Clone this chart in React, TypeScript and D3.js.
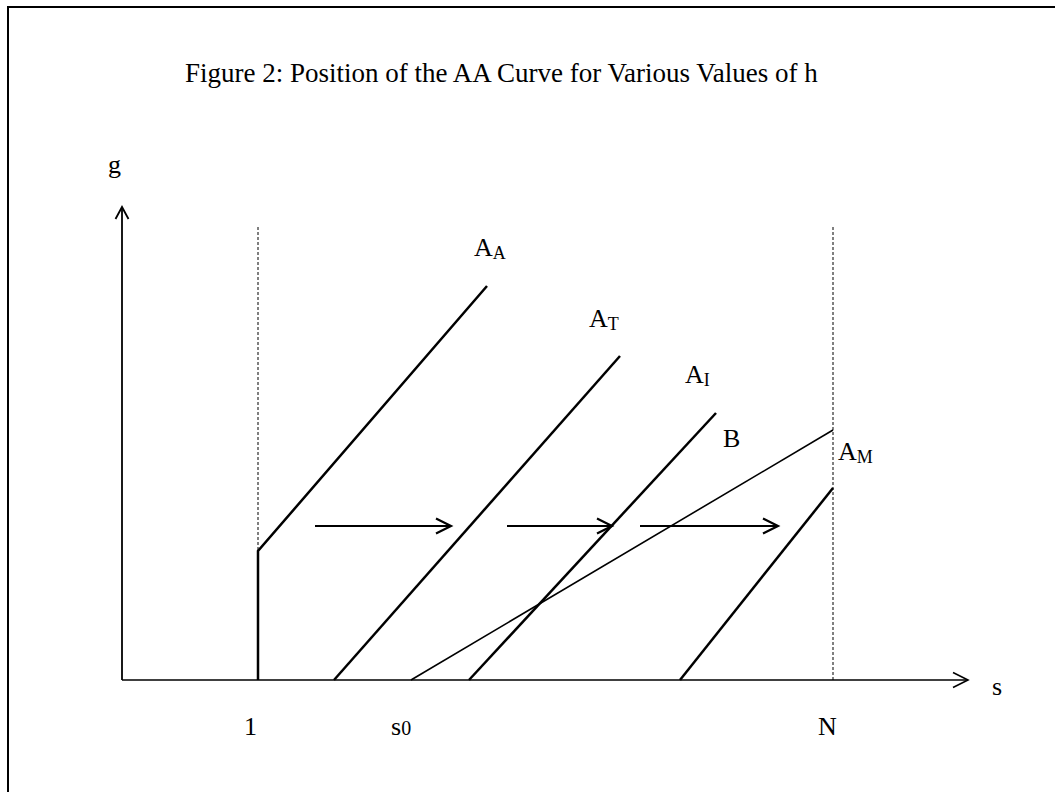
import React from "react";
import * as d3 from "d3";

// Abstract diagram coordinates (s horizontal, g vertical)
const axisExtent = { s: 846, g: 473 };
const guideS = [136, 711]; // s = 1 and s = N
const guideTop = 454;

const curveAA: [number, number][] = [[136, 0], [136, 129], [365, 394]];
const curveAT: [number, number][] = [[212, 0], [498, 324]];
const curveAI: [number, number][] = [[347, 0], [594, 267]];
const curveAM: [number, number][] = [[558, 0], [711, 192]];
const curveB: [number, number][] = [[289, 0], [711, 250]];

const shiftArrows: [number, number][] = [[193, 329], [385, 490], [518, 656]];
const shiftArrowG = 154;

const curveLabels = [
  { main: "A", sub: "A", s: 352, g: 424 },
  { main: "A", sub: "T", s: 467, g: 353 },
  { main: "A", sub: "I", s: 563, g: 297 },
  { main: "B", sub: "", s: 601, g: 233 },
  { main: "A", sub: "M", s: 716, g: 220 },
];

const tickLabels = [
  { main: "1", sub: "", s: 122 },
  { main: "s", sub: "0", s: 269 },
  { main: "N", sub: "", s: 696 },
];

const title = "Figure 2: Position of the AA Curve for Various Values of h";

const W = 1055;
const H = 792;

export default function App() {
  const x = d3.scaleLinear().domain([0, 850]).range([122, 972]);
  const y = d3.scaleLinear().domain([0, 500]).range([680, 180]);
  const line = d3
    .line<[number, number]>()
    .x((d) => x(d[0]))
    .y((d) => y(d[1]));
  const font = "'Times New Roman', 'Liberation Serif', serif";

  const chevronRight = (tx: number, ty: number, len: number, hw: number) =>
    `M${tx - len},${ty - hw}L${tx},${ty}L${tx - len},${ty + hw}`;
  const chevronUp = (tx: number, ty: number, len: number, hw: number) =>
    `M${tx - hw},${ty + len}L${tx},${ty}L${tx + hw},${ty + len}`;

  return (
    <svg
      width={W}
      height={H}
      style={{ position: "absolute", left: 0, top: 0, background: "#fff" }}
    >
      <rect x={8} y={7} width={1100} height={900} fill="none" stroke="#000" strokeWidth={2} />
      <text x={185} y={82} fontFamily={font} fontSize={27} fill="#000">
        {title}
      </text>

      {/* axes */}
      <path
        d={line([[0, 0], [axisExtent.s, 0]]) || ""}
        stroke="#000"
        strokeWidth={1.6}
        fill="none"
      />
      <path
        d={chevronRight(x(axisExtent.s), y(0), 15, 7.5)}
        stroke="#000"
        strokeWidth={1.6}
        fill="none"
      />
      <path
        d={line([[0, 0], [0, axisExtent.g]]) || ""}
        stroke="#000"
        strokeWidth={1.8}
        fill="none"
      />
      <path
        d={chevronUp(x(0), y(axisExtent.g), 12, 6.5)}
        stroke="#000"
        strokeWidth={1.8}
        fill="none"
      />

      {/* guides */}
      {guideS.map((s, i) => (
        <line
          key={i}
          x1={x(s)}
          x2={x(s)}
          y1={y(0)}
          y2={y(guideTop)}
          stroke="#000"
          strokeWidth={1}
          strokeDasharray="3,2"
        />
      ))}

      {/* curves */}
      {[curveAA, curveAT, curveAI, curveAM].map((c, i) => (
        <path key={i} d={line(c) || ""} stroke="#000" strokeWidth={2.5} fill="none" />
      ))}
      <path d={line(curveB) || ""} stroke="#000" strokeWidth={1.6} fill="none" />

      {/* shift arrows */}
      {shiftArrows.map(([a, b], i) => (
        <g key={i}>
          <line
            x1={x(a)}
            x2={x(b)}
            y1={y(shiftArrowG)}
            y2={y(shiftArrowG)}
            stroke="#000"
            strokeWidth={2.2}
          />
          <path
            d={chevronRight(x(b), y(shiftArrowG), 15, 7.5)}
            stroke="#000"
            strokeWidth={2.2}
            fill="none"
          />
        </g>
      ))}

      {/* curve labels */}
      {curveLabels.map((l, i) => (
        <text key={i} x={x(l.s)} y={y(l.g)} fontFamily={font} fontSize={26} fill="#000">
          {l.main}
          {l.sub && (
            <tspan fontSize={18} dy={3}>
              {l.sub}
            </tspan>
          )}
        </text>
      ))}

      {/* axis labels */}
      <text x={108} y={173} fontFamily={font} fontSize={26} fill="#000">
        g
      </text>
      <text x={992} y={695} fontFamily={font} fontSize={26} fill="#000">
        s
      </text>
      {tickLabels.map((l, i) => (
        <text key={i} x={x(l.s)} y={735} fontFamily={font} fontSize={26} fill="#000">
          {l.main}
          {l.sub && (
            <tspan fontSize={20} dy={0}>
              {l.sub}
            </tspan>
          )}
        </text>
      ))}
    </svg>
  );
}
